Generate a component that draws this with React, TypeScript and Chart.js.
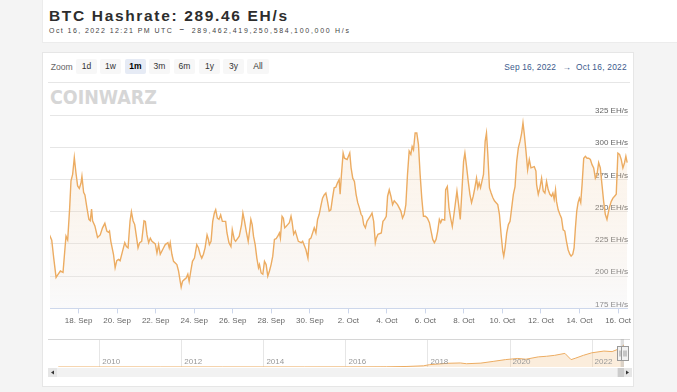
import React, { useEffect, useRef } from 'react';
import { Chart, registerables } from 'chart.js';

Chart.register(...registerables);

// ---- Data: time in days since 2022-09-16 00:00 UTC, hashrate in EH/s ----
const daysA = [0.484,0.605,0.708,0.829,0.915,1.053,1.190,1.294,1.345,1.432,1.535,1.604,1.690,1.776,1.862,1.948,2.035,2.121,2.172,2.258,2.327,2.431,2.534,2.603,2.672,2.724,2.844,2.982,3.120,3.240,3.361,3.464,3.550,3.602,3.671,3.809,3.895,3.981,4.067,4.153,4.274,4.395,4.481,4.567,4.670,4.739,4.825,4.911,4.997,5.084,5.170,5.273,5.394];
const hashA = [232,228,214,199,201,204,203,222,231,228,253,274,279,292,280,270,268,272,277.5,265,263,253,244,243,252,243,239,230,232,237.5,241,235,234,235,227,217,206.5,212,213,212,219,226,223,222,243,250,243,240,231,222,226,227,243];

const daysB = [5.463,5.549,5.635,5.721,5.808,5.980,6.066,6.152,6.238,6.410,6.497,6.634,6.703,6.755,6.841,6.927,7.100,7.186,7.272,7.323,7.392,7.496,7.582,7.668,7.737,7.823,7.909,8.013,8.133,8.219,8.305,8.391,8.478,8.564,8.667,8.736,8.788,8.874,8.960,9.046,9.115,9.201,9.287,9.373,9.460,9.632,9.701,9.804,9.907,9.976,10.080,10.149,10.338,10.459];
const hashB = [242.5,232,226,229.5,227,225,218,224.5,217,222,224.5,226,222,226,217,211.5,209,204,196,191.5,196,197.5,198.5,201.5,196,204,211.5,214,224.5,222,217,214,217,222,232,228.5,224.5,227,242.5,249,251.5,245,244,247.5,242.5,242.5,233.5,226,223,236,228.5,227,231,240];

const daysC = [10.527,10.613,10.699,10.803,10.872,10.940,11.009,11.078,11.164,11.251,11.337,11.388,11.474,11.561,11.647,11.733,11.819,11.905,11.991,12.077,12.164,12.250,12.336,12.422,12.474,12.560,12.629,12.698,12.766,12.853,12.939,13.025,13.077,13.163,13.249,13.404,13.559,13.628,13.800,13.903,13.972,14.058,14.231,14.317,14.403,14.489,14.575,14.661,14.747,14.834,14.920,15.006,15.092,15.178,15.264,15.350,15.437,15.523,15.574];
const hashC = [249,242.5,235,227,235,244,240,231,224.5,214,206.5,209,202.5,201.5,211.5,209,200,204,209,215.5,228.5,229,231,233.5,229.5,246.5,245,237.5,238.5,240,241.5,246.5,242.5,232.5,235,227,226,227,220.5,214,228.5,229.5,237.5,233.5,244,248,254.5,260.5,263,264.5,258,250.5,251.5,260.5,268.5,269,272.5,275,263.5];

const daysD = [15.644,15.730,15.799,15.937,16.074,16.143,16.229,16.316,16.402,16.488,16.574,16.660,16.729,16.798,16.884,16.970,17.142,17.229,17.315,17.401,17.452,17.539,17.711,17.797,17.883,17.969,18.038,18.124,18.210,18.297,18.383,18.555,18.727,18.813,18.900,18.986,19.072,19.158,19.244,19.313,19.382,19.468,19.554,19.640,19.726,19.812,19.899,20.002,20.105,20.209,20.295,20.381,20.467,20.553,20.639];
const hashD = [279,295.5,291.5,290.5,295.5,284,276,273.5,263.5,257,253,248,246.5,240,237.5,242.5,246.5,249,242.5,226,229.5,232.5,233.5,242.5,244,246.5,262,267,262,255.5,258.5,255.5,250.5,245,248,255.5,279,297,294.5,300.5,298,311,311,302,279,260.5,246.5,246.5,245,241.5,235,228.5,226,228.5,235];

const daysE = [20.725,20.794,20.863,21.001,21.052,21.138,21.224,21.311,21.397,21.483,21.569,21.638,21.724,21.810,21.896,21.982,22.051,22.137,22.224,22.310,22.396,22.482,22.568,22.654,22.723,22.792,22.861,23.016,23.102,23.171,23.240,23.326,23.412,23.498,23.584,23.671,23.757,23.843,23.929,24.015,24.067,24.136,24.222,24.308,24.394,24.480,24.566,24.653,24.739,24.825,24.911,24.997,25.066,25.135,25.221,25.307,25.393,25.479,25.652,25.738];
const hashE = [244,241.5,244,243.5,267,269.5,253,245,238.5,248,258,266,255.5,244,266,289,295.5,285,273.5,263.5,257,262,268.5,276,268.5,272.5,268.5,279,304.5,311,294.5,268.5,264.5,261,258.5,257,255.5,248,232.5,219.5,215.5,222,233.5,240,242.5,253,263.5,269.5,289,299.5,304.5,311,319,310,297,282.5,290.5,284,285,281.5];

const daysF = [25.773,25.859,25.945,26.031,26.117,26.203,26.289,26.376,26.462,26.548,26.617,26.686,26.755,26.806,26.892,26.979,27.065,27.151,27.237,27.323,27.409,27.495,27.564,27.650,27.719,27.788,27.857,27.926,27.995,28.064,28.133,28.219,28.305,28.391,28.477,28.563,28.650,28.736,28.822,28.908,28.994,29.080,29.166,29.253,29.339,29.425,29.545,29.649,29.735,29.821,29.907,29.993,30.079,30.165,30.252,30.338,30.407,30.475];
const hashF = [271,263.5,268.5,276,266,264.5,273.5,267,263.5,262,264.5,259.5,267,258,251.5,248,245,236,235,227,220.5,217,215.5,217,222,237.5,250.5,257,260.5,257,271,291.5,293,291.5,291.5,290.5,286.5,284,276,279,288,284,271,258,248,244,253,258,260.5,262,263.5,295.5,294.5,290.5,284,288,293,288];

const rangeStartDay = 0.514; // Sep 16, 2022 12:21
const rangeEndDay = 30.514;  // Oct 16, 2022 12:21

const xTickDays = [2,4,6,8,10,12,14,16,18,20,22,24,26,28,30];
const xTickLabels = ['18. Sep','20. Sep','22. Sep','24. Sep','26. Sep','28. Sep','30. Sep','2. Oct','4. Oct','6. Oct','8. Oct','10. Oct','12. Oct','14. Oct','16. Oct'];
const yTicks = [175,200,225,250,275,300,325];

// Navigator (full history), decimal years and EH/s
const navYears = [2009.0,2010.0,2011.5,2013.0,2014.0,2015.0,2016.0,2017.0,2017.5,2017.9,2018.05,2018.5,2018.8,2018.95,2019.3,2019.6,2019.9,2020.2,2020.4,2020.7,2020.9,2021.1,2021.35,2021.5,2021.6,2021.8,2022.0,2022.3,2022.5,2022.7,2022.79];
const navHash = [0,0,0,0.01,0.2,0.4,1,2.5,7,15,30,48,52,42,50,72,95,110,100,130,138,150,175,95,112,150,182,205,198,240,285];
const navTickYears = [2010,2012,2014,2016,2018,2020,2022];
const navMinYear = 2008.75;
const navMaxYear = 2022.79;
const navSelStart = 2022.708;
const navSelEnd = 2022.79;

const zoomButtons = ['1d','1w','1m','3m','6m','1y','3y','All'];
const selectedZoom = '1m';

const LINE = '#ECAC62';
const FONT = '"Liberation Sans", Arial, sans-serif';

export default function App() {
  const mainRef = useRef<HTMLCanvasElement>(null);
  const navRef = useRef<HTMLCanvasElement>(null);

  useEffect(() => {
    const days = [...daysA, ...daysB, ...daysC, ...daysD, ...daysE, ...daysF];
    const hash = [...hashA, ...hashB, ...hashC, ...hashD, ...hashE, ...hashF];
    const n = Math.min(days.length, hash.length);
    const points = [] as { x: number; y: number }[];
    for (let i = 0; i < n; i++) points.push({ x: days[i], y: hash[i] });

    const main = new Chart(mainRef.current!, {
      type: 'line',
      data: {
        datasets: [{
          data: points,
          borderColor: LINE,
          borderWidth: 1.4,
          pointRadius: 0,
          tension: 0,
          fill: 'start',
          backgroundColor: (ctx: any) => {
            const a = ctx.chart.chartArea;
            if (!a) return 'rgba(240,200,150,0.12)';
            const g = ctx.chart.ctx.createLinearGradient(0, a.top, 0, a.bottom);
            g.addColorStop(0, 'rgba(240,190,130,0.16)');
            g.addColorStop(1, 'rgba(236,236,240,0.30)');
            return g;
          },
        }],
      },
      options: {
        responsive: false,
        devicePixelRatio: 1,
        animation: false,
        events: [],
        layout: { padding: { left: 8, right: 4, top: 15, bottom: 7 } },
        plugins: { legend: { display: false }, tooltip: { enabled: false } },
        scales: {
          x: {
            type: 'linear',
            min: rangeStartDay,
            max: rangeEndDay,
            afterBuildTicks: (axis: any) => { axis.ticks = xTickDays.map(v => ({ value: v })); },
            ticks: {
              autoSkip: false, maxRotation: 0, padding: 3, color: '#666',
              font: { family: FONT, size: 8 },
              callback: (v: any) => xTickLabels[xTickDays.indexOf(Number(v))],
            },
            grid: { display: true, drawOnChartArea: false, drawTicks: true, tickLength: 5, color: '#ccd6eb' },
            border: { display: true, color: '#ccd6eb' },
          },
          y: {
            position: 'right',
            min: 175,
            max: 325,
            afterBuildTicks: (axis: any) => { axis.ticks = yTicks.map(v => ({ value: v })); },
            ticks: {
              mirror: true, padding: 0, labelOffset: -4, color: '#666',
              font: { family: FONT, size: 8 },
              callback: (v: any) => v + ' EH/s',
            },
            grid: { color: '#e6e6e6', drawTicks: false },
            border: { display: false },
          },
        },
      },
    } as any);

    const navPlugin = {
      id: 'navDecor',
      beforeDatasetsDraw(chart: any) {
        const { ctx, chartArea: a, scales: { x } } = chart;
        ctx.save();
        ctx.strokeStyle = '#e6e6e6';
        ctx.lineWidth = 1;
        navTickYears.forEach(yr => {
          const px = Math.round(x.getPixelForValue(yr)) + 0.5;
          ctx.beginPath(); ctx.moveTo(px, a.top); ctx.lineTo(px, a.bottom); ctx.stroke();
        });
        ctx.strokeStyle = '#d6d6d6';
        ctx.beginPath(); ctx.moveTo(a.left, a.top + 0.5); ctx.lineTo(a.right + 6, a.top + 0.5); ctx.stroke();
        ctx.restore();
      },
      afterDatasetsDraw(chart: any) {
        const { ctx, chartArea: a, scales: { x } } = chart;
        ctx.save();
        ctx.fillStyle = '#999';
        ctx.font = '8px ' + FONT;
        ctx.textBaseline = 'alphabetic';
        navTickYears.forEach(yr => ctx.fillText(String(yr), x.getPixelForValue(yr) + 3, a.bottom - 3));
        const s = x.getPixelForValue(navSelStart);
        const e = x.getPixelForValue(navSelEnd);
        ctx.fillStyle = 'rgba(160,160,160,0.35)';
        ctx.fillRect(s, a.top, Math.max(2, e - s), a.bottom - a.top);
        // scrollbar
        const sy = a.bottom + 1;
        const sh = 9;
        const sRight = a.right + 8;
        ctx.fillStyle = '#f2f2f2';
        ctx.fillRect(a.left, sy, sRight - a.left, sh);
        ctx.fillStyle = '#e6e6e6';
        ctx.fillRect(a.left, sy, 9, sh);
        ctx.fillRect(sRight - 9, sy, 9, sh);
        ctx.fillStyle = '#cccccc';
        ctx.fillRect(s - 3, sy, Math.max(6, e - s + 3), sh);
        ctx.fillStyle = '#333';
        ctx.beginPath();
        ctx.moveTo(a.left + 3, sy + sh / 2); ctx.lineTo(a.left + 6, sy + sh / 2 - 2); ctx.lineTo(a.left + 6, sy + sh / 2 + 2); ctx.closePath(); ctx.fill();
        ctx.beginPath();
        ctx.moveTo(sRight - 3, sy + sh / 2); ctx.lineTo(sRight - 6, sy + sh / 2 - 2); ctx.lineTo(sRight - 6, sy + sh / 2 + 2); ctx.closePath(); ctx.fill();
        // handles
        [s, e].forEach(px => {
          const hx = Math.round(px - 3.5) + 0.5;
          const hy = Math.round((a.top + a.bottom) / 2 - 7) + 0.5;
          ctx.fillStyle = '#f2f2f2';
          ctx.strokeStyle = '#999';
          ctx.lineWidth = 1;
          ctx.fillRect(hx, hy, 7, 14);
          ctx.strokeRect(hx, hy, 7, 14);
          ctx.beginPath();
          ctx.moveTo(hx + 2.5, hy + 4); ctx.lineTo(hx + 2.5, hy + 10);
          ctx.moveTo(hx + 4.5, hy + 4); ctx.lineTo(hx + 4.5, hy + 10);
          ctx.stroke();
        });
        ctx.restore();
      },
    };

    const navPoints = navYears.map((yr, i) => ({ x: yr, y: navHash[i] }));
    const nav = new Chart(navRef.current!, {
      type: 'line',
      data: {
        datasets: [{
          data: navPoints,
          borderColor: LINE,
          borderWidth: 1,
          pointRadius: 0,
          tension: 0,
          fill: 'start',
          backgroundColor: 'rgba(240,190,130,0.28)',
        }],
      },
      options: {
        responsive: false,
        devicePixelRatio: 1,
        animation: false,
        events: [],
        layout: { padding: { left: 6, right: 10, top: 2, bottom: 12 } },
        plugins: { legend: { display: false }, tooltip: { enabled: false } },
        scales: {
          x: { type: 'linear', display: false, min: navMinYear, max: navMaxYear },
          y: { display: false, min: 0, max: 360 },
        },
      },
      plugins: [navPlugin],
    } as any);

    return () => { main.destroy(); nav.destroy(); };
  }, []);

  const btnLefts = [76, 100, 125, 149, 174, 199, 223, 247];

  return (
    <div style={{ position: 'fixed', left: 0, top: 0, width: 677, height: 392, background: '#f4f4f4', overflow: 'hidden', fontFamily: FONT }}>
      <div style={{ position: 'absolute', left: 42, top: -2, width: 640, height: 45, background: '#fff', border: '1px solid #ececec', boxSizing: 'border-box' }} />
      <svg style={{ position: 'absolute', left: 0, top: 0 }} width={677} height={44}>
        <text x={49} y={20.7} fontFamily={FONT} fontWeight="bold" fontSize={15.5} fill="#2d2d2d" textLength={238} lengthAdjust="spacing">BTC Hashrate: 289.46 EH/s</text>
        <text x={49} y={32.7} fontFamily={FONT} fontSize={7} fill="#444" textLength={122.7} lengthAdjust="spacing">Oct 16, 2022 12:21 PM UTC</text>
        <text x={179.5} y={31} fontFamily={FONT} fontSize={8} fontWeight="bold" fill="#444">–</text>
        <text x={191.7} y={32.7} fontFamily={FONT} fontSize={7} fill="#444" textLength={157.3} lengthAdjust="spacing">289,462,419,250,584,100,000 H/s</text>
      </svg>

      <div style={{ position: 'absolute', left: 42, top: 52, width: 592, height: 335, background: '#fff', border: '1px solid #e6e6e6', boxSizing: 'border-box' }} />
      <svg style={{ position: 'absolute', left: 0, top: 52 }} width={677} height={56}>
        <text x={50.7} y={18} fontFamily={FONT} fontSize={8.6} fill="#666">Zoom</text>
        <text x={504.3} y={17.5} fontFamily={FONT} fontSize={8.4} fill="#3b5a8c" textLength={51.7} lengthAdjust="spacing">Sep 16, 2022</text>
        <text x={562.5} y={17.5} fontFamily={FONT} fontSize={8.4} fill="#3b5a8c">→</text>
        <text x={576} y={17.5} fontFamily={FONT} fontSize={8.4} fill="#3b5a8c" textLength={50.7} lengthAdjust="spacing">Oct 16, 2022</text>
        <line x1={48} y1={30.5} x2={630} y2={30.5} stroke="#e6e6e6" strokeWidth={1} />
        <text x={50} y={52} fontFamily={'"DejaVu Sans", sans-serif'} fontWeight="bold" fontSize={19} fill="#d6d6d6" textLength={107} lengthAdjust="spacingAndGlyphs">COINWARZ</text>
      </svg>
      {zoomButtons.map((b, i) => (
        <div key={b} style={{
          position: 'absolute', left: btnLefts[i], top: 59, width: b === 'All' ? 22 : 21, height: 15,
          background: b === selectedZoom ? '#e6ebf5' : '#f7f7f7', borderRadius: 2,
          fontSize: 8.5, lineHeight: '15px', textAlign: 'center',
          color: b === selectedZoom ? '#000' : '#333', fontWeight: b === selectedZoom ? 'bold' : 'normal',
        }}>{b}</div>
      ))}

      <canvas ref={mainRef} width={592} height={236} style={{ position: 'absolute', left: 42, top: 100, width: 592, height: 236 }} />
      <canvas ref={navRef} width={592} height={42} style={{ position: 'absolute', left: 42, top: 337, width: 592, height: 42 }} />
    </div>
  );
}
